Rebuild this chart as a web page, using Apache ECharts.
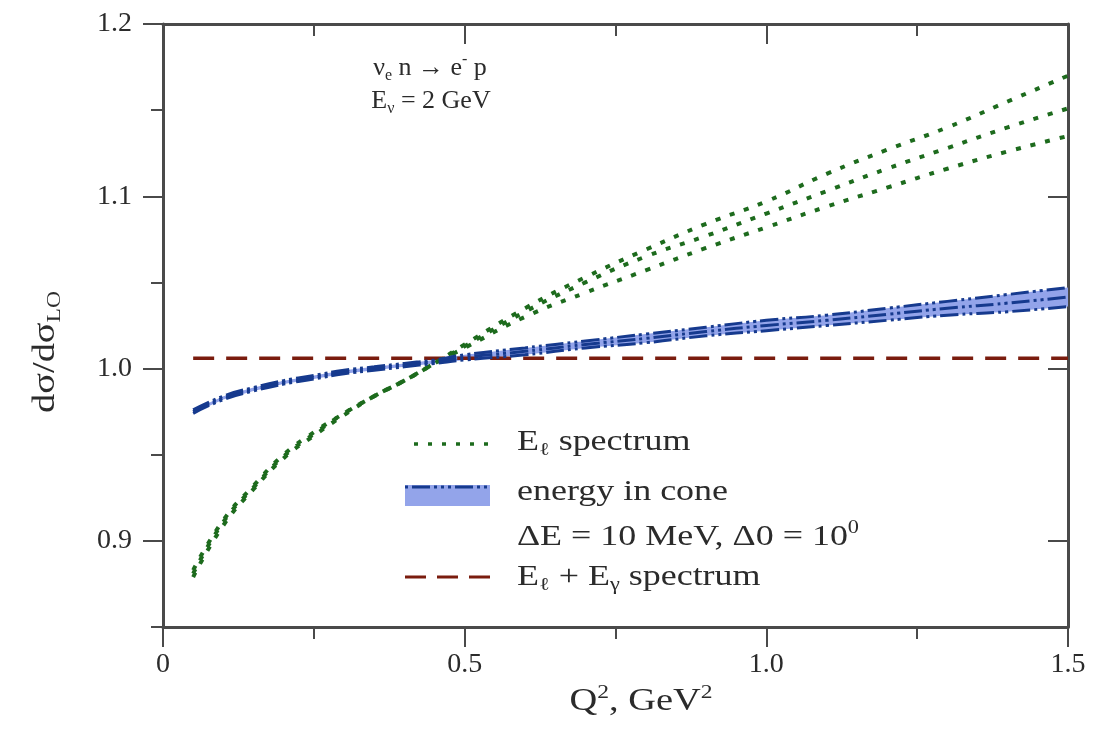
<!DOCTYPE html>
<html>
<head>
<meta charset="utf-8">
<script src="https://cdn.jsdelivr.net/npm/echarts@6/dist/echarts.min.js"></script>
<style>
html, body { margin: 0; padding: 0; background: #fff; }
#chart { width: 1102px; height: 730px; }
</style>
</head>
<body>
<div id="chart"></div>
<script>
// Q^2 grid, GeV^2
var q2 = [0.05, 0.1, 0.15, 0.2, 0.25, 0.3, 0.35, 0.4, 0.45, 0.5, 0.6, 0.7, 0.8, 0.9, 1.0, 1.1, 1.2, 1.3, 1.4, 1.5];

// E_l spectrum (three dotted curves)
var greenTop = [0.879, 0.909, 0.930, 0.948, 0.961, 0.973, 0.984, 0.993, 1.003, 1.014, 1.035, 1.053, 1.069, 1.084, 1.097, 1.113, 1.127, 1.140, 1.155, 1.170];
var greenMid = [0.881, 0.911, 0.931, 0.949, 0.962, 0.974, 0.984, 0.993, 1.003, 1.013, 1.033, 1.050, 1.065, 1.077, 1.090, 1.103, 1.116, 1.128, 1.140, 1.151];
var greenLow = [0.883, 0.912, 0.932, 0.950, 0.963, 0.974, 0.984, 0.993, 1.003, 1.012, 1.030, 1.044, 1.057, 1.070, 1.082, 1.094, 1.105, 1.116, 1.126, 1.135];

// energy in cone band
var blueLow = [0.974, 0.982, 0.987, 0.991, 0.994, 0.997, 0.999, 1.001, 1.003, 1.005, 1.008, 1.012, 1.015, 1.019, 1.022, 1.025, 1.028, 1.031, 1.033, 1.036];
var blueMid = [0.975, 0.983, 0.988, 0.992, 0.995, 0.998, 1.000, 1.002, 1.004, 1.0065, 1.010, 1.014, 1.0175, 1.0215, 1.025, 1.028, 1.0315, 1.035, 1.038, 1.0415];
var blueUp = [0.976, 0.984, 0.989, 0.993, 0.996, 0.999, 1.001, 1.003, 1.005, 1.008, 1.012, 1.016, 1.020, 1.024, 1.028, 1.031, 1.035, 1.039, 1.043, 1.047];

// E_l + E_gamma spectrum
var redX = [0.05, 0.5, 1.0, 1.5];
var redVals = [1.006, 1.006, 1.006, 1.006];

var yTicks = [0.9, 1.0, 1.1, 1.2];
var yMinorTicks = [0.85, 0.95, 1.05, 1.15];

var chart = echarts.init(document.getElementById('chart'));

function pairs(xs, ys) {
    return xs.map(function (x, i) { return [x, ys[i]]; });
}

var serif = 'Liberation Serif';
var txt = '#2b2b2b';
var axisCol = '#4a4a4a';
var green = '#1d6b1d';
var blue = '#163a8e';
var band = '#93a4ea';
var red = '#7a1c0e';

function richSet(size) {
    var s = Math.round(size * 0.62);
    return {
        n: { fontFamily: serif, fontSize: size, lineHeight: size + 6, fill: txt },
        sub: { fontFamily: serif, fontSize: s, lineHeight: s, verticalAlign: 'bottom', fill: txt },
        sup: { fontFamily: serif, fontSize: s, lineHeight: s, verticalAlign: 'top', fill: txt }
    };
}
var titleRich = richSet(26);
var legRich = richSet(29);
var nameRich = richSet(31);
var wide = 1.24;

var axLine = { show: true, onZero: false, lineStyle: { color: axisCol, width: 3 } };

function xAx(pos) {
    var inside = pos === 'top';
    return {
        type: 'value', position: pos, min: 0, max: 1.5, interval: 0.5,
        axisLine: axLine,
        axisTick: { show: true, inside: inside, length: 20, lineStyle: { color: axisCol, width: 2 } },
        minorTick: { show: true, splitNumber: 2, length: 12, lineStyle: { color: axisCol, width: 2 } },
        splitLine: { show: false },
        minorSplitLine: { show: false },
        axisLabel: {
            show: !inside, margin: 24, fontFamily: serif, fontSize: 28, color: txt,
            formatter: function (v) { return v === 0 ? '0' : v.toFixed(1); }
        }
    };
}

function yAx(pos, major) {
    var inside = pos === 'right';
    var showLab = pos === 'left' && major;
    return {
        type: 'value', position: pos, min: 0.85, max: 1.2,
        axisLine: major ? axLine : { show: false },
        axisTick: { show: true, inside: inside, length: major ? 20 : 12, customValues: major ? yTicks : yMinorTicks,
            lineStyle: { color: axisCol, width: 2 } },
        splitLine: { show: false },
        axisLabel: {
            show: showLab, customValues: yTicks, margin: 31, fontFamily: serif, fontSize: 28, color: txt,
            formatter: function (v) { return v.toFixed(1); }
        }
    };
}

var dotted = { color: green, width: 4, type: [5, 10] };
var dashDot = { color: blue, width: 3, type: [18, 4, 3, 4, 3, 4] };

var option = {
    animation: false,
    backgroundColor: '#fff',
    grid: { left: 163, right: 34, top: 24, bottom: 103 },
    xAxis: [xAx('bottom'), xAx('top')],
    yAxis: [yAx('left', true), yAx('left', false), yAx('right', true), yAx('right', false)],
    series: [
        { type: 'line', data: pairs(redX, redVals), symbol: 'none', lineStyle: { color: red, width: 3.5, type: [21, 12] } },
        {
            type: 'custom', data: [0], silent: true,
            renderItem: function (params, api) {
                var pts = [];
                for (var i = 0; i < q2.length; i++) pts.push(api.coord([q2[i], blueUp[i]]));
                for (var j = q2.length - 1; j >= 0; j--) pts.push(api.coord([q2[j], blueLow[j]]));
                return { type: 'polygon', shape: { points: pts }, style: { fill: band } };
            }
        },
        { type: 'line', data: pairs(q2, greenTop), symbol: 'none', smooth: true, lineStyle: dotted },
        { type: 'line', data: pairs(q2, greenMid), symbol: 'none', smooth: true, lineStyle: dotted },
        { type: 'line', data: pairs(q2, greenLow), symbol: 'none', smooth: true, lineStyle: dotted },
        { type: 'line', data: pairs(q2, blueLow), symbol: 'none', smooth: true, lineStyle: dashDot },
        { type: 'line', data: pairs(q2, blueMid), symbol: 'none', smooth: true, lineStyle: dashDot },
        { type: 'line', data: pairs(q2, blueUp), symbol: 'none', smooth: true, lineStyle: dashDot }
    ],
    graphic: [
        // axis names
        { type: 'text', x: 641, y: 702, scaleX: wide, style: { text: '{n|Q}{sup|2}{n|, GeV}{sup|2}', rich: nameRich, align: 'center', verticalAlign: 'middle' } },
        { type: 'text', x: 46, y: 352, scaleX: wide, rotation: Math.PI / 2, style: { text: '{n|d\u03c3/d\u03c3}{sub|LO}', rich: nameRich, align: 'center', verticalAlign: 'middle' } },
        // process label
        { type: 'text', x: 430, y: 68, style: { text: '{n|\u03bd}{sub|e}{n| n \u2192 e}{sup|-}{n| p}', rich: titleRich, align: 'center', verticalAlign: 'middle' } },
        { type: 'text', x: 431, y: 101, style: { text: '{n|E}{sub|\u03bd}{n| = 2 GeV}', rich: titleRich, align: 'center', verticalAlign: 'middle' } },
        // legend
        { type: 'line', shape: { x1: 414, y1: 444, x2: 488, y2: 444 }, style: { stroke: green, lineWidth: 3.5, lineDash: [4, 10] } },
        { type: 'text', x: 517, y: 442, scaleX: wide, style: { text: '{n|E}{sub|\u2113}{n| spectrum}', rich: legRich, verticalAlign: 'middle' } },
        { type: 'rect', shape: { x: 405, y: 485, width: 85, height: 21 }, style: { fill: band } },
        { type: 'line', shape: { x1: 405, y1: 487, x2: 490, y2: 487 }, style: { stroke: blue, lineWidth: 3, lineDash: [3, 4, 18, 4, 3, 4, 3, 4] } },
        { type: 'text', x: 517, y: 492, scaleX: wide, style: { text: '{n|energy in cone}', rich: legRich, verticalAlign: 'middle' } },
        { type: 'text', x: 517, y: 537, scaleX: wide, style: { text: '{n|\u0394E = 10 MeV, \u03940 = 10}{sup|0}', rich: legRich, verticalAlign: 'middle' } },
        { type: 'line', shape: { x1: 405, y1: 577, x2: 490, y2: 577 }, style: { stroke: red, lineWidth: 3, lineDash: [21, 11] } },
        { type: 'text', x: 517, y: 577, scaleX: wide, style: { text: '{n|E}{sub|\u2113}{n| + E}{sub|\u03b3}{n| spectrum}', rich: legRich, verticalAlign: 'middle' } }
    ]
};

chart.setOption(option);
</script>
</body>
</html>
